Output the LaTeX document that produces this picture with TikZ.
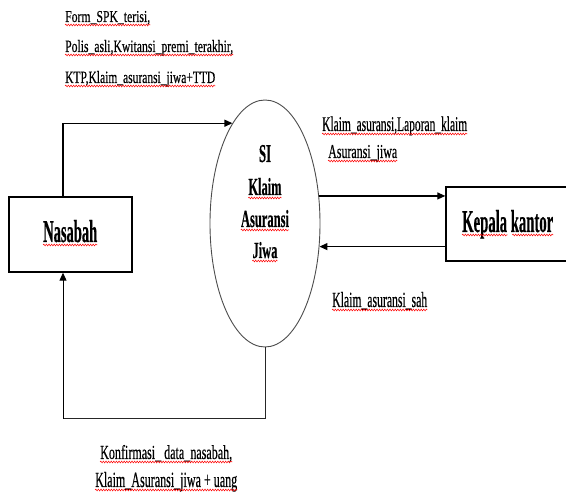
\documentclass[tikz,border=0pt]{standalone}
\usepackage{fontspec}
\setmainfont{Liberation Serif}
\newfontfamily\lblfont[FakeBold=0.5]{Liberation Serif}
\newfontfamily\boldfont[FakeBold=0.6]{Liberation Serif Bold}
\usetikzlibrary{arrows.meta,decorations.pathmorphing,calc,shapes.geometric}
\newcommand{\fit}[3]{\resizebox{#1pt}{#2pt}{#3}}
\tikzset{
  lbl/.style={inner sep=0pt,anchor=base west,font=\lblfont},
  enttext/.style={inner sep=0pt,anchor=base west,font=\boldfont},
  ctr/.style={inner sep=0pt,anchor=base,font=\boldfont},
  entity/.style={draw=black,line width=1.4pt,rectangle,minimum width=123pt,minimum height=75pt,inner sep=0pt},
  proc/.style={draw=black!70,line width=0.9pt,ellipse,minimum width=110pt,minimum height=247pt,inner sep=0pt},
  arr/.style={-{Triangle[length=8pt,width=7pt]},line width=1.3pt,black},
  flow/.style={line width=1pt,black!85},
  spell/.style={red,line width=0.5pt,decorate,decoration={snake,amplitude=0.9pt,segment length=2.6pt}}
}
\newcommand{\sq}[1]{\draw[spell] ($(#1.base west)+(0,-3)$) -- ($(#1.base east)+(0,-3)$);}
\begin{document}
\begin{tikzpicture}[x=1pt,y=1pt]
\useasboundingbox (0,0) rectangle (566,500);
% nodes
\node[entity] (nas) at (70.5,265.5) {};
\node[entity,minimum width=129pt,minimum height=74pt] (kep) at (510.5,276) {};
\node[proc] (si) at (265,276.5) {};
% node texts
\node[enttext] (tnas) at (43,258) {\fit{54}{22}{Nasabah}};
\node[enttext] (tkep) at (462,268) {\fit{91}{22}{Kepala kantor}};
\node[ctr] (t1) at (265,338) {\fit{12}{17}{SI}};
\node[ctr] (t2) at (265,305) {\fit{33}{17}{Klaim}};
\node[ctr] (t3) at (265,273) {\fit{48}{17}{Asuransi}};
\node[ctr] (t4) at (265,242) {\fit{25}{16}{Jiwa}};
% connectors
\coordinate (c1) at (63,0);
\coordinate (c2) at (63,81);
\draw[arr] (nas.north -| c1) |- (si.108.1);
\draw[arr] (si.27.2) -- (si.27.2 -| kep.west);
\draw[arr] (si.-23.5 -| kep.west) -- (si.-23.5);
\draw[flow] (si.south) |- (c2);
\draw[arr,line width=1pt] (c2) -- (nas.south -| c2);
% flow labels
\node[lbl] (l1) at (65,478) {\fit{85}{11}{Form\_SPK\_terisi,}};
\node[lbl] (l2) at (65,448) {\fit{168}{12}{Polis\_asli,Kwitansi\_premi\_terakhir,}};
\node[lbl] (l3) at (65,417) {\fit{150}{12}{KTP,Klaim\_asuransi\_jiwa+TTD}};
\node[lbl] (r1) at (322,369) {\fit{145}{14.5}{Klaim\_asuransi,Laporan\_klaim}};
\node[lbl] (r2) at (328,342) {\fit{69}{13}{Asuransi\_jiwa}};
\node[lbl] (s1) at (332,193) {\fit{95}{15}{Klaim\_asuransi\_sah}};
\node[lbl] (b1) at (100,41) {\fit{132}{14}{Konfirmasi\_ data\_nasabah,}};
\node[lbl] (b2) at (95,13) {\fit{142}{15}{Klaim\_Asuransi\_jiwa + uang}};
% spelling underlines
\sq{l1}\sq{l2}\sq{l3}\sq{r1}\sq{r2}\sq{s1}\sq{b1}\sq{b2}
\sq{tnas}\sq{t2}\sq{t3}\sq{t4}
\draw[spell] ($(tkep.base west)+(0,-3)$) -- ($(tkep.base west)!0.5!(tkep.base east)+(0,-3)$);
\draw[spell] ($(tkep.base west)!0.55!(tkep.base east)+(0,-3)$) -- ($(tkep.base east)+(0,-3)$);
\end{tikzpicture}
\end{document}
